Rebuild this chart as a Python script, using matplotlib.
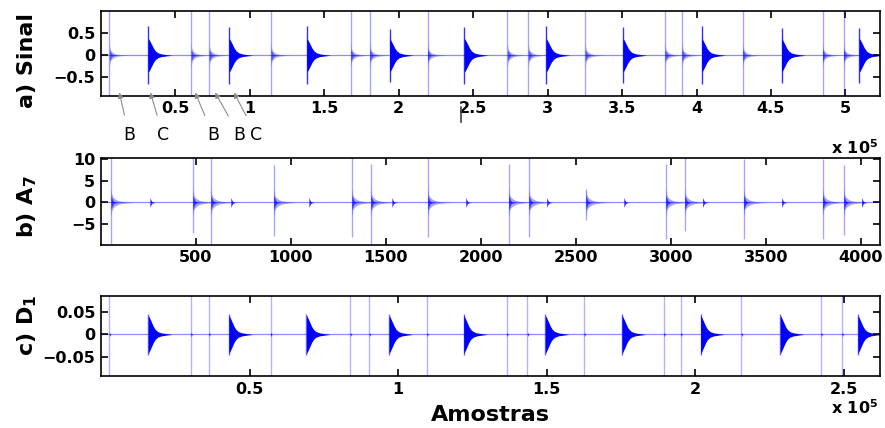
import numpy as np
import matplotlib.pyplot as plt
from matplotlib.lines import Line2D

plt.rcParams['font.family'] = ['DejaVu Sans']

# posições dos eventos (amostras)
# C = explosões fortes, B = picos finos
sinal_c = [31800, 86100, 138300, 193900, 244100, 299000, 350600, 403500, 457100, 509300]
sinal_c_amp = [0.66, 0.64, 0.66, 0.60, 0.64, 0.66, 0.63, 0.66, 0.62, 0.62]
sinal_b = [5700, 60600, 72700, 114200, 167800, 180600, 219400, 273000, 287000,
           325200, 378800, 390200, 431000, 484600, 498700]

a7_c = [258, 684, 1095, 1532, 1921, 2347, 2753, 3168, 3584, 4005]
a7_b = [53, 484, 579, 910, 1321, 1421, 1721, 2147, 2253, 2553, 2974, 3074, 3384, 3800, 3911]
a7_b_sup = [10.5, 10.5, 10.5, 8.6, 10.5, 9.0, 10.5, 9.0, 10.5, 3.0, 9.0, 10.5, 10.0, 10.0, 8.6]
a7_b_inf = [-9.6, -7.0, -9.6, -7.7, -8.0, -9.6, -8.0, -9.6, -8.0, -4.0, -8.5, -6.5, -8.5, -8.5, -7.5]

d1_c = [15900, 43050, 69150, 96950, 122050, 149500, 175300, 201750, 228550, 254650]
d1_b = [2850, 30300, 36350, 57100, 83900, 90300, 109700, 136500, 143500,
        162600, 189400, 195100, 215500, 242300, 249350]

# perfis do envelope de decaimento (tempo relativo, amplitude relativa)
forma_t = [0.0, 0.03, 0.08, 0.15, 0.22, 0.30, 0.40, 0.55, 0.75, 1.0]
forma_lenta = [1.0, 0.95, 0.82, 0.62, 0.42, 0.26, 0.15, 0.08, 0.04, 0.0]
forma_rapida = [1.0, 0.60, 0.40, 0.28, 0.20, 0.14, 0.09, 0.05, 0.02, 0.0]

ticks_a = [0.5e5, 1e5, 1.5e5, 2e5, 2.5e5, 3e5, 3.5e5, 4e5, 4.5e5, 5e5]
rotulos_a = ['0.5', '1', '1.5', '2', '2.5', '3', '3.5', '4', '4.5', '5']
ticks_b = [500, 1000, 1500, 2000, 2500, 3000, 3500, 4000]
ticks_c = [0.5e5, 1e5, 1.5e5, 2e5, 2.5e5]
rotulos_c = ['0.5', '1', '1.5', '2', '2.5']

# setas B / C do painel a)
setas_x = [12400, 33200, 63300, 76700, 89400]
setas_txt = ['B', 'C', 'B', 'B', 'C']
setas_px = [129, 163, 213, 239, 256]

AZUL = (0.0, 0.0, 1.0)
AZUL_CLARO = (0.55, 0.55, 1.0)


def envelope(ax, pos, comp, alt, alpha, forma=forma_lenta):
    x = pos + np.asarray(forma_t) * comp
    y = np.asarray(forma) * alt
    ax.fill_between(x, -y, y, color=AZUL, alpha=alpha, lw=0)


def estilo(ax, ylim, yticks, yrot):
    ax.axhline(0, color=AZUL_CLARO, lw=0.9, zorder=0)
    ax.set_ylim(*ylim)
    ax.set_yticks(yticks)
    ax.set_yticklabels(yrot)
    ax.tick_params(direction='in', top=True, right=True, length=5, width=1.2,
                   labelsize=11.5, pad=4)
    for lab in ax.get_xticklabels() + ax.get_yticklabels():
        lab.set_fontweight('bold')
    for s in ax.spines.values():
        s.set_linewidth(1.2)


fig = plt.figure(figsize=(8.85, 4.28), dpi=100)
ax1 = fig.add_axes([0.114, 0.776, 0.880, 0.198])
ax2 = fig.add_axes([0.114, 0.428, 0.880, 0.203])
ax3 = fig.add_axes([0.114, 0.121, 0.880, 0.187])

# a) Sinal
for p in sinal_b:
    ax1.vlines(p, -1.2, 1.2, color=AZUL, alpha=0.35, lw=1.0)
    envelope(ax1, p, 13000, 0.28, 0.3, forma_rapida)
    envelope(ax1, p, 6000, 0.12, 0.5)
for p, amp in zip(sinal_c, sinal_c_amp):
    ax1.vlines(p, -amp, amp, color=AZUL, alpha=0.8, lw=1.0)
    envelope(ax1, p, 3000, amp * 0.9, 0.45, forma_rapida)
    envelope(ax1, p, 16000, 0.38, 1.0)
ax1.set_xlim(0, 5.23e5)
ax1.set_xticks(ticks_a)
ax1.set_xticklabels(rotulos_a)
estilo(ax1, (-0.92, 1.0), [-0.5, 0, 0.5], ['\u22120.5', '0', '0.5'])

for x, t, px in zip(setas_x, setas_txt, setas_px):
    ax1.annotate(t, xy=(x, 0.04), xycoords=('data', 'axes fraction'),
                 xytext=(px, 293), textcoords='figure pixels',
                 ha='center', va='center', fontsize=12.5,
                 arrowprops=dict(arrowstyle='-|>', color='0.55', lw=0.8,
                                 mutation_scale=8, shrinkA=6, shrinkB=0))

# b) A7
for p, hi, lo in zip(a7_b, a7_b_sup, a7_b_inf):
    ax2.vlines(p, lo, hi, color=AZUL, alpha=0.35, lw=1.0)
    envelope(ax2, p, 130, 3.2, 0.35, forma_rapida)
    envelope(ax2, p, 40, 1.5, 0.65)
for p in a7_c:
    envelope(ax2, p, 30, 1.1, 0.85)
ax2.set_xlim(0, 4100)
ax2.set_xticks(ticks_b)
estilo(ax2, (-9.8, 10.3), [-5, 0, 5, 10], ['\u22125', '0', '5', '10'])

# c) D1
for p in d1_b:
    ax3.vlines(p, -0.12, 0.12, color=AZUL, alpha=0.3, lw=1.0)
    envelope(ax3, p, 900, 0.005, 0.8)
for p in d1_c:
    ax3.vlines(p, -0.045, 0.045, color=AZUL, alpha=0.6, lw=1.0)
    envelope(ax3, p, 8000, 0.042, 1.0)
ax3.set_xlim(0, 2.62e5)
ax3.set_xticks(ticks_c)
ax3.set_xticklabels(rotulos_c)
estilo(ax3, (-0.093, 0.085), [-0.05, 0, 0.05], ['\u22120.05', '0', '0.05'])
ax3.set_xlabel('Amostras', fontsize=16, fontweight='bold', labelpad=6)

# rótulos verticais
for txt, yc in [('a) Sinal', 367), ('b) A$_\\mathbf{7}$', 221), ('c) D$_\\mathbf{1}$', 103)]:
    fig.text(27, yc, txt, transform=None, rotation=90, ha='center', va='center',
             fontsize=16, fontweight='bold')

fig.text(878, 280, 'x 10$^{\\mathbf{5}}$', transform=None, ha='right', va='center',
         fontsize=11.5, fontweight='bold')
fig.text(878, 20, 'x 10$^{\\mathbf{5}}$', transform=None, ha='right', va='center',
         fontsize=11.5, fontweight='bold')

# pequeno traço solto sob o rótulo 2.5 (presente na figura original)
fig.add_artist(Line2D([461, 461], [306, 321], transform=None, color='0.25', lw=1.2))

fig.savefig('out.png', dpi=100)
